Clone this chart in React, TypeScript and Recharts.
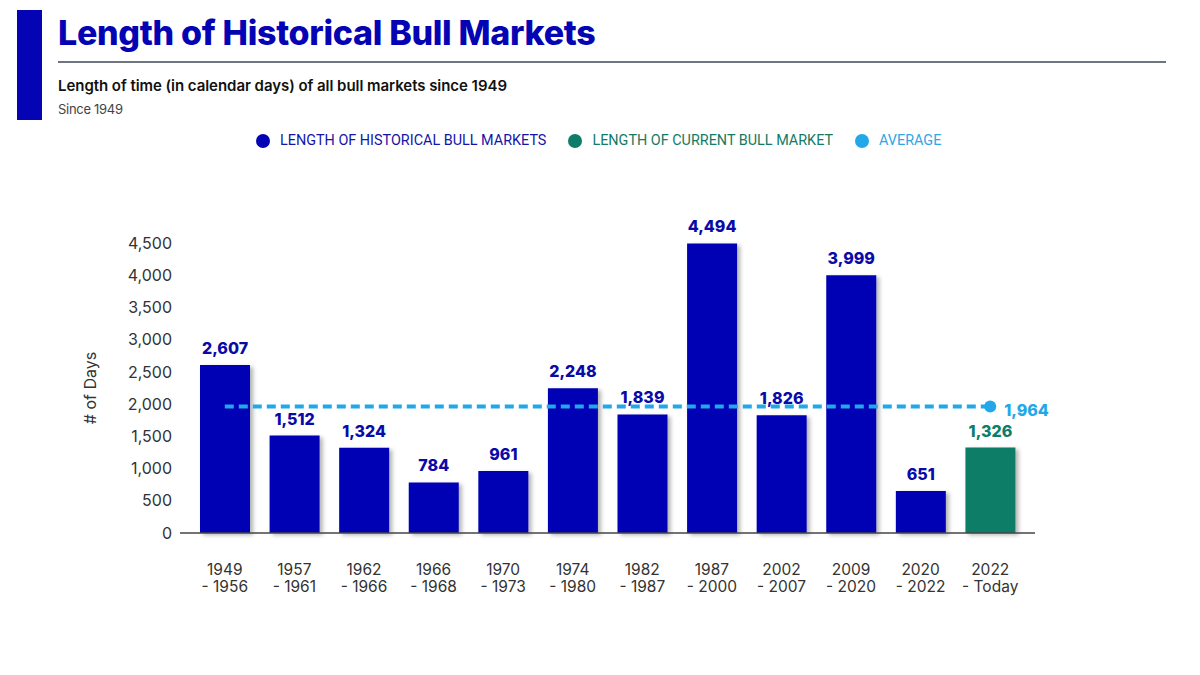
import React from 'react';
import { ComposedChart, Bar, Line, XAxis, YAxis, Cell, LabelList } from 'recharts';

const periodStart = ['1949', '1957', '1962', '1966', '1970', '1974', '1982', '1987', '2002', '2009', '2020', '2022'];
const periodEnd = ['- 1956', '- 1961', '- 1966', '- 1968', '- 1973', '- 1980', '- 1987', '- 2000', '- 2007', '- 2020', '- 2022', '- Today'];
const lengthDays = [2607, 1512, 1324, 784, 961, 2248, 1839, 4494, 1826, 3999, 651, 1326];
const isCurrent = [false, false, false, false, false, false, false, false, false, false, false, true];
const averageDays = 1964;
const yTicks = [0, 500, 1000, 1500, 2000, 2500, 3000, 3500, 4000, 4500];

const BLUE = '#0404B4';
const GREEN = '#0D7D67';
const AVG = '#22A8E8';
const FONT = 'Inter, "Noto Sans", sans-serif';

const data = periodStart.map((s, i) => ({
  name: s,
  end: periodEnd[i],
  days: lengthDays[i],
  avg: averageDays,
  current: isCurrent[i],
}));

const fmt = (v: number) => v.toLocaleString('en-US');

const XTick = (props: any) => {
  const { x, y, payload, index } = props;
  return (
    <g transform={`translate(${x},${y})`}>
      <text x={0} y={34} textAnchor="middle" fill="#333" fontSize={15.5} fontFamily={FONT}>
        {payload.value}
      </text>
      <text x={0} y={51} textAnchor="middle" fill="#333" fontSize={15.5} fontFamily={FONT}>
        {periodEnd[index]}
      </text>
    </g>
  );
};

const BarLabel = (props: any) => {
  const { x, y, width, value, index } = props;
  return (
    <text
      x={x + width / 2}
      y={y - 11}
      textAnchor="middle"
      fill={isCurrent[index] ? GREEN : '#0A0AA8'}
      fontSize={16}
      fontWeight={800}
      fontFamily={FONT}
    >
      {fmt(value)}
    </text>
  );
};

const AvgDot = (props: any) => {
  const { cx, cy, index } = props;
  if (index !== data.length - 1) return <g key={`d${index}`} />;
  return (
    <g key={`d${index}`}>
      <circle cx={cx} cy={cy} r={6} fill={AVG} />
      <text x={cx + 14} y={cy + 10} fill={AVG} fontSize={16} fontWeight={800} fontFamily={FONT}>
        {fmt(averageDays)}
      </text>
    </g>
  );
};

const legendItems = [
  { label: 'LENGTH OF HISTORICAL BULL MARKETS', color: BLUE, text: '#1414A8' },
  { label: 'LENGTH OF CURRENT BULL MARKET', color: GREEN, text: '#147A64' },
  { label: 'AVERAGE', color: AVG, text: '#2FA6E6' },
];

export default function App() {
  return (
    <div style={{ position: 'absolute', left: 0, top: 0, width: 1200, height: 675, background: '#fff', overflow: 'hidden', fontFamily: FONT }}>
      <div style={{ position: 'absolute', left: 17, top: 10, width: 25, height: 110, background: BLUE }} />
      <div style={{ position: 'absolute', left: 58, top: 11, fontSize: 34, fontWeight: 800, color: BLUE, letterSpacing: -0.3, lineHeight: '44px', whiteSpace: 'nowrap' }}>
        Length of Historical Bull Markets
      </div>
      <div style={{ position: 'absolute', left: 58, top: 61, width: 1108, height: 2, background: '#6E7480' }} />
      <div style={{ position: 'absolute', left: 58, top: 76, fontSize: 15, fontWeight: 600, color: '#111', whiteSpace: 'nowrap', letterSpacing: -0.05 }}>
        Length of time (in calendar days) of all bull markets since 1949
      </div>
      <div style={{ position: 'absolute', left: 58, top: 101, fontSize: 13, color: '#444', whiteSpace: 'nowrap', letterSpacing: -0.3 }}>
        Since 1949
      </div>
      <div style={{ position: 'absolute', left: 256, top: 132, display: 'flex', alignItems: 'center', whiteSpace: 'nowrap', fontFamily: 'Roboto, sans-serif', fontSize: 14.4 }}>
        {legendItems.map((it, i) => (
          <div key={i} style={{ display: 'flex', alignItems: 'center', marginRight: 22 }}>
            <span style={{ display: 'inline-block', width: 14, height: 14, borderRadius: 7, background: it.color, marginRight: 10 }} />
            <span style={{ color: it.text }}>{it.label}</span>
          </div>
        ))}
      </div>
      <div style={{ position: 'absolute', left: 0, top: 0 }}>
        <ComposedChart width={1200} height={675} data={data} margin={{ top: 243, right: 165, bottom: 82, left: 90 }}>
          <defs>
            <filter id="barShadow" x="-20%" y="-10%" width="150%" height="130%">
              <feDropShadow dx={3} dy={2} stdDeviation={2} floodColor="#000" floodOpacity={0.3} />
            </filter>
          </defs>
          <XAxis
            dataKey="name"
            interval={0}
            tickLine={false}
            axisLine={{ stroke: '#444', strokeWidth: 1.5 }}
            tick={<XTick />}
            height={60}
            padding={{ left: 10, right: 10 }}
          />
          <YAxis
            width={90}
            domain={[0, 4500]}
            ticks={yTicks}
            interval={0}
            tickLine={false}
            axisLine={false}
            tickFormatter={fmt}
            tick={{ fill: '#333', fontSize: 16, fontFamily: FONT }}
            tickMargin={2}
            label={{ value: '# of Days', angle: -90, position: 'insideLeft', offset: 0, style: { fill: '#333', fontSize: 16, fontFamily: FONT, textAnchor: 'middle' } }}
          />
          <Bar dataKey="days" barSize={50} isAnimationActive={false} filter="url(#barShadow)">
            {data.map((d, i) => (
              <Cell key={i} fill={d.current ? GREEN : BLUE} />
            ))}
            <LabelList dataKey="days" content={<BarLabel />} />
          </Bar>
          <Line
            dataKey="avg"
            stroke={AVG}
            strokeWidth={4}
            strokeDasharray="9 5"
            dot={<AvgDot />}
            activeDot={false}
            isAnimationActive={false}
          />
        </ComposedChart>
      </div>
    </div>
  );
}
